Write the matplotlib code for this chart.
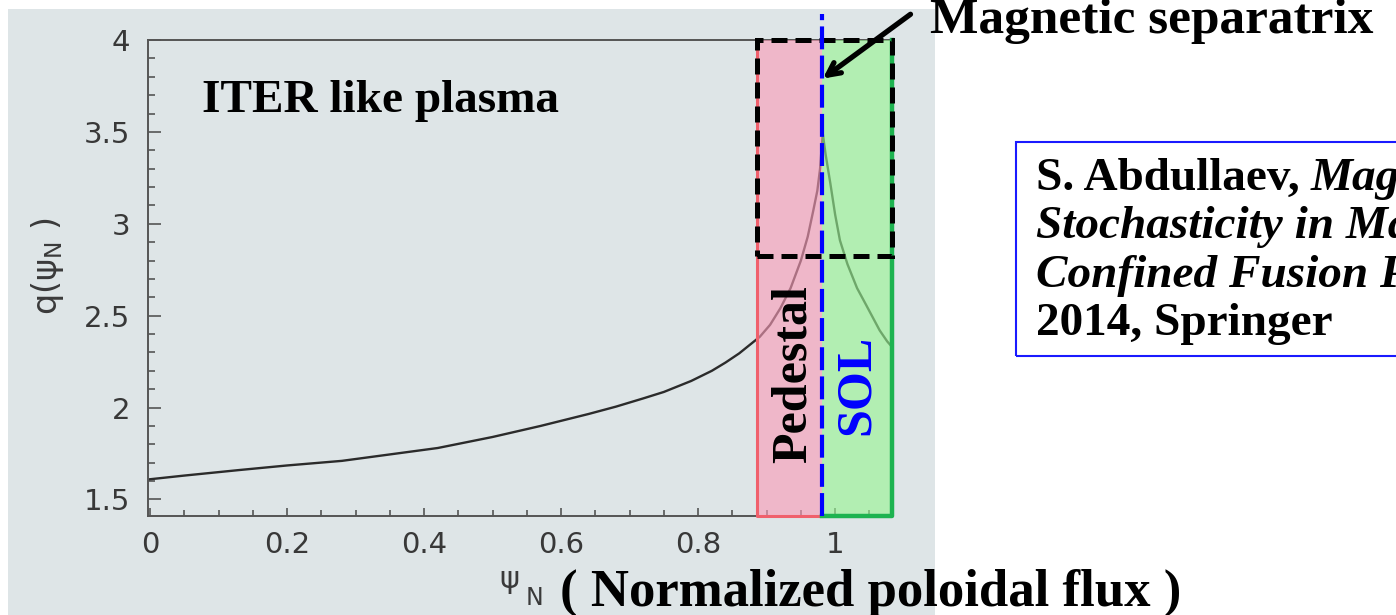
import matplotlib
matplotlib.use("Agg")
import matplotlib.pyplot as plt
from matplotlib.patches import Rectangle
from matplotlib.ticker import MultipleLocator

# q profile
psi = [0.0, 0.05, 0.13, 0.2, 0.28, 0.35, 0.42, 0.5, 0.57, 0.64, 0.68, 0.72,
       0.75, 0.79, 0.82, 0.84, 0.86, 0.875, 0.89, 0.905, 0.92, 0.935, 0.95, 0.96,
       0.968, 0.974, 0.978, 0.98, 0.982, 0.986, 0.993, 1.0, 1.007, 1.018,
       1.032, 1.045, 1.055, 1.065, 1.076, 1.083]
q = [1.61, 1.63, 1.66, 1.685, 1.71, 1.745, 1.78, 1.84, 1.90, 1.965, 2.005, 2.05,
     2.085, 2.145, 2.20, 2.245, 2.295, 2.34, 2.385, 2.45, 2.54, 2.65, 2.80, 2.93,
     3.07, 3.18, 3.30, 3.40, 3.49, 3.38, 3.22, 3.05, 2.91, 2.78,
     2.65, 2.56, 2.49, 2.42, 2.36, 2.33]

x_ticks = [0, 0.2, 0.4, 0.6, 0.8, 1]
x_tick_labels = ["0", "0.2", "0.4", "0.6", "0.8", "1"]
y_ticks = [1.5, 2, 2.5, 3, 3.5, 4]
y_tick_labels = ["1.5", "2", "2.5", "3", "3.5", "4"]

pedestal = [0.886, 0.981]
sol = [0.981, 1.083]
separatrix = 0.981
box_bottom = 2.826

W, H = 1396, 615
SERIF = "Liberation Serif"


def fx(px):
    return px / W


def fy(py):
    return 1 - py / H


fig = plt.figure(figsize=(W / 100, H / 100), dpi=100)
fig.patch.set_facecolor("white")

# scanned page background
fig.patches.append(Rectangle((fx(8), fy(615)), fx(935) - fx(8), fy(9) - fy(615),
                             transform=fig.transFigure, facecolor="#dee5e7",
                             edgecolor="none", zorder=-5))

ax = fig.add_axes([fx(148), fy(516), fx(892) - fx(148), fy(40) - fy(516)])
ax.set_zorder(1)
ax.set_facecolor("none")
ax.plot(psi, q, color="#2b2b2b", lw=1.7, zorder=2)
ax.set_xlim(-0.003, 1.083)
ax.set_ylim(1.41, 4.0)

ax.set_xticks(x_ticks)
ax.set_xticklabels(x_tick_labels)
ax.set_yticks(y_ticks)
ax.set_yticklabels(y_tick_labels)
ax.xaxis.set_minor_locator(MultipleLocator(0.05))
ax.yaxis.set_minor_locator(MultipleLocator(0.1))
ax.tick_params(which="both", direction="in", color="#555555", labelcolor="#383838",
               labelsize=21, width=1.2)
ax.tick_params(axis="y", which="major", length=9, pad=13)
ax.tick_params(axis="y", which="minor", length=5)
ax.tick_params(axis="x", which="major", length=6, pad=11)
ax.tick_params(axis="x", which="minor", length=4)
for s in ax.spines.values():
    s.set_color("#555555")
    s.set_linewidth(1.4)

lo, hi = ax.get_ylim()
# pedestal and SOL regions
ax.axvspan(pedestal[0], pedestal[1], facecolor="#fb9cb8", alpha=0.62,
           edgecolor="none", zorder=3)
ax.axvspan(sol[0], sol[1], facecolor="#98f592", alpha=0.62,
           edgecolor="none", zorder=3)
ax.plot([pedestal[0], pedestal[0], pedestal[1]], [hi, lo, lo], color="#f0606c",
        lw=2.2, clip_on=False, zorder=4)
ax.plot([sol[0], sol[1], sol[1]], [lo, lo, hi], color="#1db350",
        lw=3.2, clip_on=False, zorder=4)

ax.add_patch(Rectangle((pedestal[0], box_bottom), sol[1] - pedestal[0], hi - box_bottom,
                       fill=False, edgecolor="black", lw=3.6, ls=(0, (3.2, 1.6)),
                       clip_on=False, zorder=6))
ax.plot([separatrix, separatrix], [lo, 4.14], color="#0000ff", lw=3,
        ls=(0, (5.5, 1.5)), clip_on=False, zorder=7)

ax.annotate("", xy=(0.982, 3.79), xytext=(1.11, 4.14),
            arrowprops=dict(arrowstyle="->,head_length=0.9,head_width=0.45",
                            lw=3.8, color="black", shrinkA=0, shrinkB=0),
            annotation_clip=False, zorder=8)

# axis labels (scanned sans style)
fig.text(fx(47), fy(266), "q(ψ$_\\mathregular{N}$ )", rotation=90, fontsize=24,
         color="#3a3a3a", ha="center", va="center")
fig.text(fx(509), fy(588), "ψ", fontsize=22, color="#3a3a3a", ha="center", va="baseline")
fig.text(fx(526), fy(605), "N", fontsize=17, color="#3a3a3a", ha="left", va="baseline")

# slide annotations
fig.text(fx(202), fy(112), "ITER like plasma", fontsize=34, fontweight="bold",
         family=SERIF, va="baseline", zorder=9)
fig.text(fx(794), fy(374), "Pedestal", fontsize=36, fontweight="bold", family=SERIF,
         rotation=90, ha="center", va="center", zorder=9)
fig.text(fx(857), fy(385), "SOL", fontsize=36, fontweight="bold", family=SERIF,
         color="#0000ff", rotation=90, ha="center", va="center", zorder=9)
fig.text(fx(930), fy(33), "Magnetic separatrix", fontsize=37, fontweight="bold",
         family=SERIF, va="baseline")
fig.text(fx(560), fy(606), "( Normalized poloidal flux )", fontsize=38,
         fontweight="bold", family=SERIF, va="baseline")

# reference box
fig.patches.append(Rectangle((fx(1016), fy(356)), 0.5, fy(142) - fy(356),
                             transform=fig.transFigure, fill=False,
                             edgecolor="#1a1aff", lw=1.5))
renderer = fig.canvas.get_renderer()
t1 = fig.text(fx(1036), fy(190), "S. Abdullaev,", fontsize=34, fontweight="bold",
              family=SERIF, va="baseline")
x1 = t1.get_window_extent(renderer).x1
fig.text(fx(x1 + 11), fy(190), "Magnetic", fontsize=34, fontweight="bold",
         style="italic", family=SERIF, va="baseline")
fig.text(fx(1036), fy(238), "Stochasticity in Magnetically", fontsize=34,
         fontweight="bold", style="italic", family=SERIF, va="baseline")
fig.text(fx(1036), fy(287), "Confined Fusion Plasmas", fontsize=34,
         fontweight="bold", style="italic", family=SERIF, va="baseline")
fig.text(fx(1036), fy(335), "2014, Springer", fontsize=34, fontweight="bold",
         family=SERIF, va="baseline")

fig.savefig("out.png", dpi=100)
